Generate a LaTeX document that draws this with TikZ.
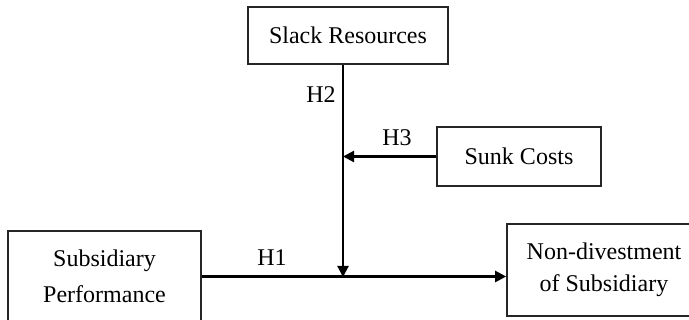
\documentclass[tikz,border=0pt]{standalone}
\usepackage{fontspec}
\setmainfont{Liberation Serif}
\usetikzlibrary{arrows.meta}
\begin{document}
\begin{tikzpicture}[x=1pt,y=-1pt,
  box/.style={draw=black!85,line width=1.6pt,rectangle,inner sep=0pt,align=center,font=\fontsize{24}{36}\selectfont},
  conn/.style={line width=2.2pt,-{Triangle[length=11pt,width=11pt]}},
  hlab/.style={font=\fontsize{24}{28}\selectfont,inner sep=0pt}]
\useasboundingbox (0,0) rectangle (689,320);
\clip (0,0) rectangle (689,320);
\node[box,minimum width=200pt,minimum height=57pt] (slack) at (348,35.5) {Slack Resources};
\node[box,minimum width=164pt,minimum height=59pt] (sunk) at (519,156.5) {Sunk Costs};
\node[box,minimum width=193pt,minimum height=91pt] (perf) at (104.5,276.5) {Subsidiary\\Performance};
\node[box,minimum width=194pt,minimum height=92pt,font=\fontsize{24}{32}\selectfont] (nondiv) at (604,270) {Non-divestment\\of Subsidiary};
\coordinate (j) at (343,277);
\draw[conn] (perf.east) -- (perf.east -| nondiv.west);
\draw[conn] (slack.south -| j) -- (j);
\draw[conn] (sunk.west) -- (sunk.west -| j);
\node[hlab] (h2) at (321,95) {H2};
\node[hlab] (h3) at (397,138) {H3};
\node[hlab] (h1) at (272,258) {H1};
\end{tikzpicture}
\end{document}
